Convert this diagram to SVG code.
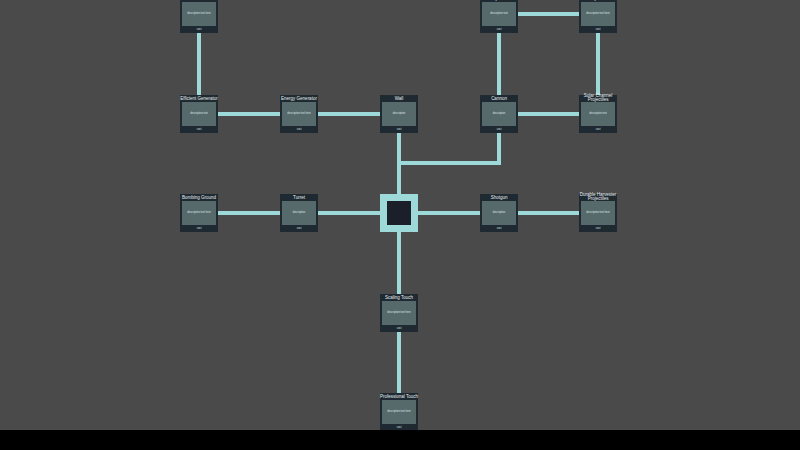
<svg xmlns="http://www.w3.org/2000/svg" width="800" height="450" viewBox="0 0 800 450">
<style>
.c{stroke:#9ed9d9;stroke-width:4;fill:none}
.b{fill:#1e2931}
.p{fill:#56696b}
.t{font-family:"Liberation Sans",sans-serif;font-size:4.5px;fill:#e8eef0;text-anchor:middle}
.s{font-family:"Liberation Sans",sans-serif;font-size:2.6px;fill:#dfe7e8;text-anchor:middle}
</style>
<defs>
<g id="n"><rect class="b" x="-19" y="-19" width="38" height="38"/><rect class="p" x="-17" y="-12" width="34" height="24"/></g>
</defs>
<rect width="800" height="450" fill="#4a4a4a"/>
<g id="connectors">
<path class="c" d="M199 33V96M218 114H281M318 114H381M399 133V195M399 163H499V133M499 96V33M518 14H580M598 33V96M518 114H580M218 213H281M318 213H381M418 213H481M518 213H580M399 232V295M399 332V394"/>
</g>
<g id="n1" transform="translate(199,14)"><use href="#n"/><text class="s" y="0">description text here</text><text class="s" y="16">cost</text></g>
<g id="n2" transform="translate(499,14)"><use href="#n"/><text class="t" y="-14">Projectiles</text><text class="s" y="0">description text</text><text class="s" y="16">cost</text></g>
<g id="n3" transform="translate(598,14)"><use href="#n"/><text class="t" y="-14">Projectiles</text><text class="s" y="0">description text here</text><text class="s" y="16">cost</text></g>
<g id="n4" transform="translate(199,114)"><use href="#n"/><text class="t" y="-14">Efficient Generator</text><text class="s" y="0">description text</text><text class="s" y="16">cost</text></g>
<g id="n5" transform="translate(299,114)"><use href="#n"/><text class="t" y="-14">Energy Generator</text><text class="s" y="0">description text here</text><text class="s" y="16">cost</text></g>
<g id="n6" transform="translate(399,114)"><use href="#n"/><text class="t" y="-14">Wall</text><text class="s" y="0">description</text><text class="s" y="16">cost</text></g>
<g id="n7" transform="translate(499,114)"><use href="#n"/><text class="t" y="-14">Cannon</text><text class="s" y="0">description</text><text class="s" y="16">cost</text></g>
<g id="n8" transform="translate(598,114)"><use href="#n"/><text class="t" y="-17">Solar Channel</text><text class="t" y="-13">Projectiles</text><text class="s" y="0">description text</text><text class="s" y="16">cost</text></g>
<g id="n9" transform="translate(199,213)"><use href="#n"/><text class="t" y="-14">Bombing Ground</text><text class="s" y="0">description text here</text><text class="s" y="16">cost</text></g>
<g id="n10" transform="translate(299,213)"><use href="#n"/><text class="t" y="-14">Turret</text><text class="s" y="0">description</text><text class="s" y="16">cost</text></g>
<g id="core" transform="translate(399,213)"><rect x="-19" y="-19" width="38" height="38" fill="#9ed9d9"/><rect x="-12" y="-12" width="24" height="24" fill="#1a1f2a"/></g>
<g id="n11" transform="translate(499,213)"><use href="#n"/><text class="t" y="-14">Shotgun</text><text class="s" y="0">description</text><text class="s" y="16">cost</text></g>
<g id="n12" transform="translate(598,213)"><use href="#n"/><text class="t" y="-17">Durable Harvester</text><text class="t" y="-13">Projectiles</text><text class="s" y="0">description text here</text><text class="s" y="16">cost</text></g>
<g id="n13" transform="translate(399,313)"><use href="#n"/><text class="t" y="-14">Scaling Touch</text><text class="s" y="0">description text here</text><text class="s" y="16">cost</text></g>
<g id="n14" transform="translate(399,412)"><use href="#n"/><text class="t" y="-14">Professional Touch</text><text class="s" y="0">description text here</text><text class="s" y="16">cost</text></g>
<rect y="430" width="800" height="20" fill="#000"/>
</svg>
